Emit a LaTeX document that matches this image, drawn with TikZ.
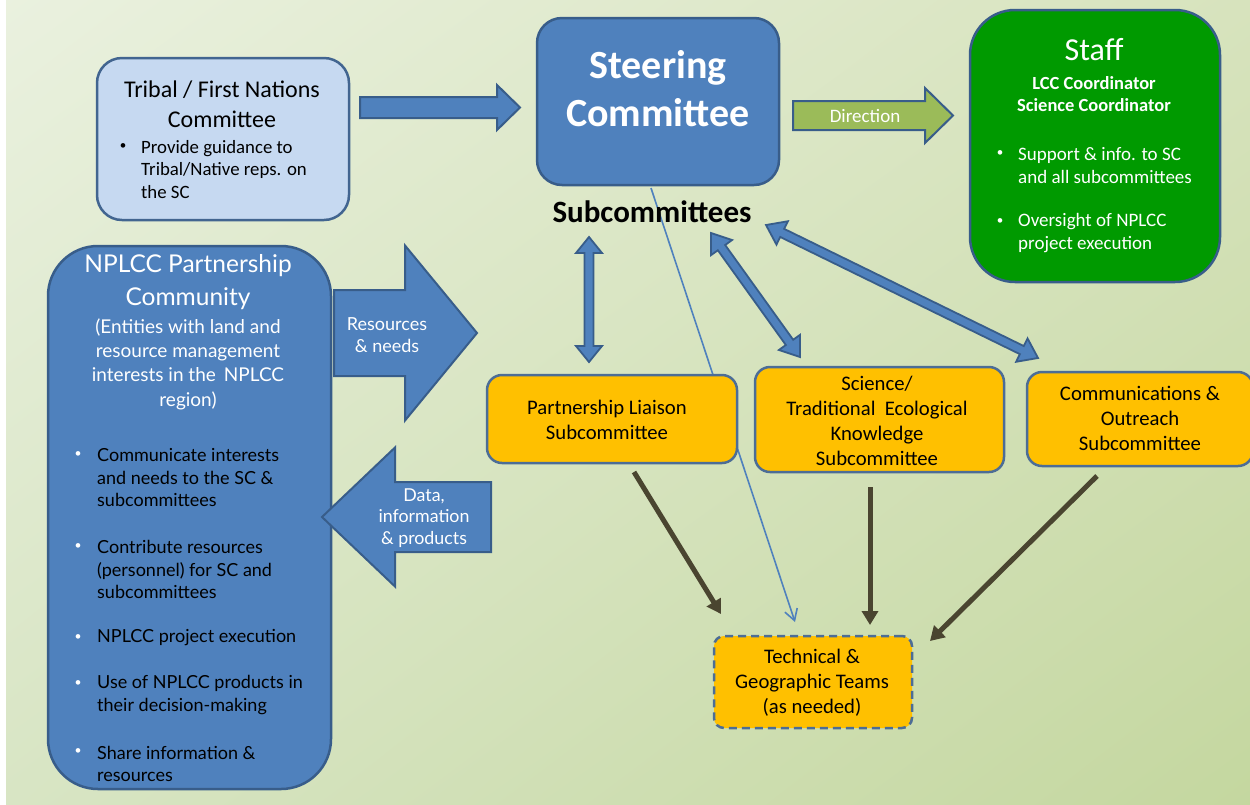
\documentclass[tikz,border=0pt]{standalone}
\usepackage{fontspec}
\setmainfont{Carlito}
\newfontfamily\lato{Lato}
\usetikzlibrary{arrows.meta,calc,shadings}
\definecolor{bgUL}{HTML}{EAF1DF}
\definecolor{bgUR}{HTML}{D7E3BD}
\definecolor{bgLL}{HTML}{D8E5C4}
\definecolor{bgLR}{HTML}{C4D79F}
\definecolor{sblue}{HTML}{4F81BD}
\definecolor{sborder}{HTML}{385D8A}
\definecolor{lblue}{HTML}{C6D9F1}
\definecolor{staffgreen}{HTML}{009A00}
\definecolor{dirgreen}{HTML}{9BBB59}
\definecolor{ybox}{HTML}{FFC000}
\definecolor{darrow}{HTML}{4A4530}
\newcommand\blockarrow[6]{%
  \coordinate (bhA) at ($(#3)!#6pt!(#2)$);
  \path[#1] ($(#2)!#4pt!90:(#3)$) -- ($(bhA)!#4pt!-90:(#2)$) -- ($(bhA)!#5pt!-90:(#2)$) -- (#3)
    -- ($(bhA)!#5pt!90:(#2)$) -- ($(bhA)!#4pt!90:(#2)$) -- ($(#2)!#4pt!-90:(#3)$) -- cycle;}
\newcommand\dblarrow[6]{%
  \coordinate (dhA) at ($(#2)!#6pt!(#3)$);
  \coordinate (dhB) at ($(#3)!#6pt!(#2)$);
  \path[#1] (#2) -- ($(dhA)!#5pt!90:(#3)$) -- ($(dhA)!#4pt!90:(#3)$) -- ($(dhB)!#4pt!-90:(#2)$)
    -- ($(dhB)!#5pt!-90:(#2)$) -- (#3) -- ($(dhB)!#5pt!90:(#2)$) -- ($(dhB)!#4pt!90:(#2)$)
    -- ($(dhA)!#4pt!-90:(#3)$) -- ($(dhA)!#5pt!-90:(#3)$) -- cycle;}
\begin{document}
\begin{tikzpicture}[x=1pt,y=-1pt,
  boxbase/.style={draw=sborder, line width=2.5pt, inner sep=0pt},
  bluebox/.style={boxbase, fill=sblue},
  ybox/.style={boxbase, draw=sborder!90!white, fill=ybox, rounded corners=15pt, align=center},
  ytext/.style={inner sep=0pt, align=center, font=\fontsize{20.7}{25}\selectfont},
  blockstyle/.style={draw=sborder, fill=sblue, line width=2pt, line join=miter},
  darkarr/.style={draw=darrow, line width=5pt, -{Triangle[length=14pt,width=16pt]}},
  wtext/.style={text=white, align=center, inner sep=0pt},
  btext/.style={text=black, inner sep=0pt, align=left},
  bul/.style={inner sep=0pt, font=\fontsize{13}{13}\selectfont}]
\useasboundingbox (0,0) rectangle (1250,804);
\shade[upper left=bgUL, upper right=bgUR, lower left=bgLL, lower right=bgLR] (-2,-2) rectangle (1253,808);
\fill[white] (-2,-2) rectangle (6,808);

% thin blue line (behind boxes)
\coordinate (thinS) at (651,188);
\coordinate (thinE) at (795,622);
\draw[sblue, line width=1.6pt, -{Straight Barb[length=11pt,width=13pt,line width=1.6pt]}] (thinS) -- (thinE);

% Tribal
\node[boxbase, draw=sborder!95!white, fill=lblue, rounded corners=25pt, minimum width=252pt, minimum height=162pt] (tribal) at (223,139) {};
\node[inner sep=0pt, align=center, font=\fontsize{24}{30}\selectfont] (tribalT) at (222,104) {Tribal / First Nations\\Committee};
\node[bul] (tribalB) at (123,147) {•};
\node[btext, anchor=west, font=\fontsize{18.8}{22.5}\selectfont] (tribalL) at (141,169.5) {Provide guidance to\\Tribal/Native reps. on\\the SC};

% Steering
\node[bluebox, rounded corners=25pt, minimum width=242pt, minimum height=167pt] (steer) at (658,101.5) {};
\node[wtext, font=\fontsize{40}{48}\bfseries\selectfont] (steerT) at (658,89) {Steering\\Committee};
\node[inner sep=0pt, font=\fontsize{31}{36}\bfseries\selectfont] (subc) at (652,212) {Subcommittees};

% Staff
\node[boxbase, fill=staffgreen, rounded corners=45pt, minimum width=250pt, minimum height=272pt] (staff) at (1095,146) {};
\node[wtext, font=\fontsize{32}{36}\selectfont] (staffT) at (1094,50) {Staff};
\node[wtext, font=\fontsize{18.5}{22}\bfseries\selectfont] (staffC) at (1094,94) {LCC Coordinator\\Science Coordinator};
\node[bul, text=white] (staffB1) at (1000,154) {•};
\node[btext, text=white, anchor=west, font=\fontsize{19}{23}\selectfont] (staffL1) at (1018,165.5) {Support \& info. to SC\\and all subcommittees};
\node[bul, text=white] (staffB2) at (1000,222) {•};
\node[btext, text=white, anchor=west, font=\fontsize{19}{23}\selectfont] (staffL2) at (1018,233.5) {Oversight of NPLCC\\project execution};

% NPLCC partnership
\node[bluebox, rounded corners=50pt, minimum width=283pt, minimum height=543pt] (nplcc) at (189.5,517.5) {};
\node[wtext, font=\lato\fontsize{24.5}{33}\selectfont] (nplccT) at (188,282) {NPLCC Partnership\\Community};
\node[wtext, font=\lato\fontsize{19}{24.3}\selectfont] (nplccS) at (188,364) {(Entities with land and\\resource management\\interests in the\, NPLCC\\region)};
\begin{scope}[every node/.append style={text=white}]
\foreach \by/\cy/\txt [count=\i] in {455/477.5/{Communicate interests\\and needs to the SC \&\\subcommittees},
  547/569.5/{Contribute resources\\(personnel) for SC and\\subcommittees},
  638/638/{NPLCC project execution},
  684/695/{Use of NPLCC products in\\their decision-making},
  752/764/{Share information \&\\resources}}{
  \node[bul] (nb\i) at (78,\by) {•};
  \node[btext, anchor=west, font=\lato\fontsize{18}{22.7}\selectfont] (nl\i) at (97,\cy) {\txt};
}
\end{scope}

% block arrows
\coordinate (trA) at (360,107.5); \coordinate (trB) at (520,107.5);
\blockarrow{blockstyle}{trA}{trB}{10.5}{22.5}{23}
\coordinate (diA) at (793,115.5); \coordinate (diB) at (953,115.5);
\blockarrow{blockstyle, fill=dirgreen}{diA}{diB}{14.5}{27.5}{28}
\node[wtext, font=\fontsize{19}{20}\selectfont] (dirT) at (865,116) {Direction};
\coordinate (reA) at (334,333); \coordinate (reB) at (477,333);
\blockarrow{blockstyle}{reA}{reB}{43}{87.5}{72}
\node[wtext, font=\lato\fontsize{18}{22}\selectfont] (reT) at (387,335) {Resources\\\& needs};
\coordinate (daA) at (491,517); \coordinate (daB) at (322,517);
\blockarrow{blockstyle}{daA}{daB}{35}{69.5}{73}
\node[wtext, font=\lato\fontsize{17.8}{21.5}\selectfont] (daT) at (424,518) {Data,\\information\\\& products};

% yellow boxes
\node[ybox, minimum width=250pt, minimum height=88pt] (pl) at (612,419) {};
\node[ytext] (plT) at (607,419.5) {Partnership Liaison\\Subcommittee};
\node[ybox, minimum width=249pt, minimum height=105pt] (stek) at (879.5,419.5) {};
\node[ytext] (stekT) at (877,420.5) {Science/\\Traditional\ \ Ecological\\Knowledge\\Subcommittee};
\node[ybox, minimum width=226pt, minimum height=94pt] (co) at (1140,419) {};
\node[ytext] (coT) at (1140,418) {Communications \&\\Outreach\\Subcommittee};
\node[ybox, rounded corners=10pt, dash pattern=on 8pt off 5pt, minimum width=198pt, minimum height=92pt] (tech) at (813,682) {};
\node[ytext] (techT) at (812,683) {Technical \&\\Geographic Teams\\(as needed)};

% double arrows
\coordinate (d1A) at (589,237); \coordinate (d1B) at (589,362);
\dblarrow{blockstyle, line width=1.8pt}{d1A}{d1B}{4.5}{13}{16}
\coordinate (d2A) at (711,233); \coordinate (d2B) at (800,357);
\dblarrow{blockstyle, line width=1.8pt}{d2A}{d2B}{4.5}{13}{18}
\coordinate (d3A) at (766,225); \coordinate (d3B) at (1038,358);
\dblarrow{blockstyle, line width=1.8pt}{d3A}{d3B}{4.5}{13}{18}

% dark arrows
\coordinate (k1A) at (634,472); \coordinate (k1B) at (721,614);
\draw[darkarr] (k1A) -- (k1B);
\coordinate (k2A) at (870,487); \coordinate (k2B) at (870,625);
\draw[darkarr] (k2A) -- (k2B);
\coordinate (k3A) at (1097,476); \coordinate (k3B) at (930,641);
\draw[darkarr] (k3A) -- (k3B);
\end{tikzpicture}
\end{document}
